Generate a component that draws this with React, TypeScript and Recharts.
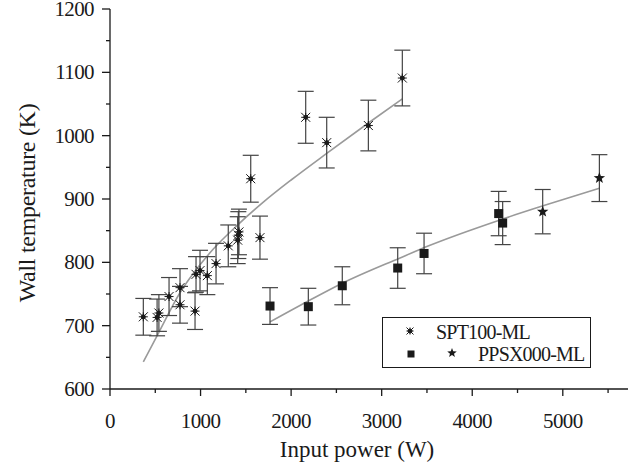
import { ComposedChart, Line, Scatter, XAxis, YAxis, ErrorBar, Label } from 'recharts'

// SPT100-ML measurements: input power (W), wall temperature (K), error (K)
const sptPower = [368, 520, 540, 652, 773, 773, 939, 950, 994, 1075, 1171, 1306, 1410, 1417, 1424, 1554, 1656, 2161, 2393, 2853, 3228]
const sptTemp = [714, 713, 720, 746, 760, 733, 723, 781, 787, 779, 798, 826, 835, 843, 848, 932, 839, 1029, 989, 1016, 1091]
const sptErr = [29, 29, 29, 30, 30, 29, 29, 28, 32, 30, 32, 33, 37, 37, 36, 37, 34, 41, 40, 40, 44]

// PPSX000-ML, square markers
const sqPower = [1767, 2190, 2565, 3177, 3468, 4292, 4336]
const sqTemp = [731, 730, 763, 791, 814, 877, 862]
const sqErr = [29, 29, 30, 32, 32, 35, 34]

// PPSX000-ML, star markers
const starPower = [4778, 5404]
const starTemp = [880, 933]
const starErr = [35, 37]

// fitted curves
const sptFitPower = [368, 534, 773, 994, 1141, 1417, 1693, 2000, 2393, 2853, 3228]
const sptFitTemp = [643, 688, 752, 796, 821, 860, 895, 930, 972, 1020, 1058]
const ppsxFitPower = [1767, 2190, 2565, 3203, 3534, 4307, 4800, 5404]
const ppsxFitTemp = [706, 739, 767, 807, 827, 867, 890, 917]

const xTicks = [0, 500, 1000, 1500, 2000, 2500, 3000, 3500, 4000, 4500, 5000, 5500]
const topTicks = [0, 500, 1000, 1500, 2000, 2500, 3000, 3500, 4000, 4500, 5000, 5500]
const yTicks = [600, 650, 700, 750, 800, 850, 900, 950, 1000, 1050, 1100, 1150, 1200]

const zip = (xs: number[], ys: number[], es?: number[]) =>
  xs.map((x, i) => ({ x, y: ys[i], err: es ? es[i] : 0 }))

const sptData = zip(sptPower, sptTemp, sptErr)
const sqData = zip(sqPower, sqTemp, sqErr)
const starData = zip(starPower, starTemp, starErr)
const sptFit = zip(sptFitPower, sptFitTemp)
const ppsxFit = zip(ppsxFitPower, ppsxFitTemp)

const FONT = 'Liberation Serif'
const INK = '#1a1a1a'

function Asterisk({ cx, cy, r = 4.5 }: any) {
  if (cx == null || cy == null) return null
  return (
    <g stroke={INK} strokeWidth={1}>
      <line x1={cx - r} y1={cy - r} x2={cx + r} y2={cy + r} />
      <line x1={cx - r} y1={cy + r} x2={cx + r} y2={cy - r} />
      <line x1={cx} y1={cy - r} x2={cx} y2={cy + r} />
      <line x1={cx - r} y1={cy} x2={cx + r} y2={cy} />
      <circle cx={cx} cy={cy} r={2} fill={INK} />
    </g>
  )
}

function Square({ cx, cy, s = 9 }: any) {
  if (cx == null || cy == null) return null
  return <rect x={cx - s / 2} y={cy - s / 2} width={s} height={s} fill={INK} />
}

function Star({ cx, cy, ro = 6, ri = 2.5 }: any) {
  if (cx == null || cy == null) return null
  const pts: string[] = []
  for (let i = 0; i < 10; i++) {
    const r = i % 2 === 0 ? ro : ri
    const a = -Math.PI / 2 + (i * Math.PI) / 5
    pts.push(`${cx + r * Math.cos(a)},${cy + r * Math.sin(a)}`)
  }
  return <polygon points={pts.join(' ')} fill={INK} />
}

const textStyle = { fontFamily: FONT }

function BottomTick({ x, y, payload }: any) {
  const major = payload.value % 1000 === 0
  return (
    <g>
      <line x1={x} y1={y} x2={x} y2={y + (major ? 7 : 4)} stroke={INK} strokeWidth={1.3} />
      {major && (
        <text x={x} y={y + 39} textAnchor="middle" fontFamily={FONT} style={textStyle} fontSize={21} letterSpacing={-0.6} fill={INK}>
          {payload.value}
        </text>
      )}
    </g>
  )
}

function TopTick({ x, y, payload }: any) {
  const major = payload.value % 1000 === 0
  return <line x1={x} y1={y} x2={x} y2={y + (major ? 7 : 3)} stroke={INK} strokeWidth={1.3} />
}

function LeftTick({ x, y, payload }: any) {
  const major = payload.value % 100 === 0
  return (
    <g>
      <line x1={x} y1={y} x2={x - (major ? 8 : 4)} y2={y} stroke={INK} strokeWidth={1.3} />
      {major && (
        <text x={x - 16} y={y + 7} textAnchor="end" fontFamily={FONT} style={textStyle} fontSize={21} letterSpacing={-0.6} fill={INK}>
          {payload.value}
        </text>
      )}
    </g>
  )
}

function RightTick({ x, y, payload }: any) {
  const major = payload.value % 100 === 0
  return <line x1={x} y1={y} x2={x - (major ? 7 : 3)} y2={y} stroke={INK} strokeWidth={1.3} />
}

function LegendBox() {
  return (
    <div
      style={{
        position: 'absolute', left: 382, top: 317, width: 209, height: 51,
        border: `1px solid ${INK}`, boxSizing: 'border-box', background: '#fff',
      }}
    >
      <svg width={207} height={49} style={{ display: 'block' }}>
        <Asterisk cx={27} cy={13} r={3.5} />
        <text x={53} y={20.5} fontFamily={FONT} style={textStyle} fontSize={20} letterSpacing={-0.8} fill={INK}>SPT100-ML</text>
        <Square cx={28} cy={36} s={7} />
        <Star cx={69} cy={35} ro={5} ri={2.1} />
        <text x={95} y={43} fontFamily={FONT} style={textStyle} fontSize={20} letterSpacing={-0.8} fill={INK}>PPSX000-ML</text>
      </svg>
    </div>
  )
}

export default function App() {
  return (
    <div style={{ position: 'absolute', left: 0, top: 0, width: 643, height: 471, background: '#fff' }}>
      <style>{'.plot text { font-family: "Liberation Serif", serif !important; }'}</style>
      <div className="plot">
        <ComposedChart width={643} height={471} margin={{ top: 9, right: 15, bottom: 0, left: 0 }}>
          <XAxis
            dataKey="x" type="number" domain={[0, 5720]} ticks={xTicks} interval={0}
            height={82} axisLine={{ stroke: INK, strokeWidth: 1.3 }} tickLine={false}
            tickSize={0} tickMargin={0} tick={<BottomTick />}
          >
            <Label
              content={() => (
                <text x={357} y={457} textAnchor="middle" fontFamily={FONT} style={textStyle} fontSize={23} fill={INK}>
                  Input power (W)
                </text>
              )}
            />
          </XAxis>
          <XAxis
            xAxisId="top" orientation="top" type="number" domain={[0, 5500]} ticks={topTicks} interval={0}
            height={0} axisLine={{ stroke: INK, strokeWidth: 1.3 }} tickLine={false}
            tickSize={0} tickMargin={0} tick={<TopTick />}
          />
          <YAxis
            type="number" domain={[600, 1200]} ticks={yTicks} interval={0}
            width={110} axisLine={{ stroke: INK, strokeWidth: 1.3 }} tickLine={false}
            tickSize={0} tickMargin={0} tick={<LeftTick />}
          >
            <Label
              content={() => (
                <text x={35} y={203} transform="rotate(-90 35 203)" textAnchor="middle" fontFamily={FONT} style={textStyle} fontSize={24} letterSpacing={-0.3} fill={INK}>
                  Wall temperature (K)
                </text>
              )}
            />
          </YAxis>
          <YAxis
            yAxisId="right" orientation="right" type="number" domain={[600, 1200]} ticks={yTicks} interval={0}
            width={0} axisLine={{ stroke: INK, strokeWidth: 1.3 }} tickLine={false}
            tickSize={0} tickMargin={0} tick={<RightTick />}
          />

          <Line data={sptFit} dataKey="y" type="monotone" stroke="#9a9a9a" strokeWidth={1.6} dot={false} isAnimationActive={false} />
          <Line data={ppsxFit} dataKey="y" type="monotone" stroke="#9a9a9a" strokeWidth={1.6} dot={false} isAnimationActive={false} />

          <Scatter data={sptData} dataKey="y" shape={<Asterisk />} isAnimationActive={false}>
            <ErrorBar dataKey="err" direction="y" width={8} stroke="#444" strokeWidth={1.2} isAnimationActive={false} />
          </Scatter>
          <Scatter data={sqData} dataKey="y" shape={<Square />} isAnimationActive={false}>
            <ErrorBar dataKey="err" direction="y" width={8} stroke="#444" strokeWidth={1.2} isAnimationActive={false} />
          </Scatter>
          <Scatter data={starData} dataKey="y" shape={<Star />} isAnimationActive={false}>
            <ErrorBar dataKey="err" direction="y" width={8} stroke="#444" strokeWidth={1.2} isAnimationActive={false} />
          </Scatter>
        </ComposedChart>
        <LegendBox />
      </div>
    </div>
  )
}
